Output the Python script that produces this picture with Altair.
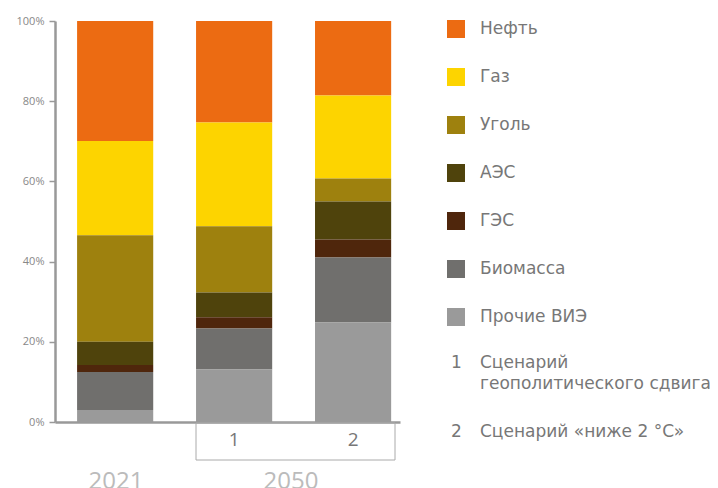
import altair as alt
import pandas as pd

FONT = "Open Sans"
LFONT = "DejaVu Sans"

bars = ["2021", "1", "2"]
sources = ["Нефть", "Газ", "Уголь", "АЭС", "ГЭС", "Биомасса", "Прочие ВИЭ"]
colors = ["#EC6B12", "#FDD400", "#9E810E", "#4F430C", "#4F260C", "#706F6D", "#9A9A9A"]
v_2021 = [29.9, 23.5, 26.6, 5.8, 1.7, 9.5, 3.0]
v_2050_1 = [25.3, 25.9, 16.5, 6.2, 2.8, 10.2, 13.1]
v_2050_2 = [18.6, 20.7, 5.7, 9.5, 4.5, 16.2, 24.8]
y_ticks = [0, 20, 40, 60, 80, 100]
group_labels = ["2021", "2050"]
note_nums = ["1", "2"]
note_lines = ["Сценарий", "геополитического сдвига", "Сценарий «ниже 2 °C»"]

rows = []
for bar, vals in zip(bars, [v_2021, v_2050_1, v_2050_2]):
    for i, (s, v) in enumerate(zip(sources, vals)):
        rows.append({"bar": bar, "source": s, "value": v, "ord": len(sources) - i})
df = pd.DataFrame(rows)

W, H = 345, 401

bars_layer = alt.Chart(df).mark_bar().encode(
    x=alt.X(
        "bar:N",
        sort=bars,
        scale=alt.Scale(paddingInner=0.36, paddingOuter=0.13, align=0.714),
        axis=alt.Axis(
            title=None,
            labelExpr="datum.value == '2021' ? '' : datum.value",
            ticks=False,
            domainColor="#999999",
            domainWidth=2.5,
            labelFontSize=19,
            labelColor="#777777",
            labelFont=FONT,
            labelPadding=8,
            labelAngle=0,
        ),
    ),
    y=alt.Y(
        "value:Q",
        stack="zero",
        scale=alt.Scale(domain=[0, 100], nice=False),
        axis=alt.Axis(
            title=None,
            values=y_ticks,
            labelExpr="datum.value + '%'",
            tickSize=6,
            tickColor="#999999",
            tickWidth=1.5,
            domainColor="#999999",
            domainWidth=2.5,
            labelFontSize=11,
            labelColor="#888888",
            labelFont=FONT,
            labelPadding=5,
            grid=False,
        ),
    ),
    color=alt.Color(
        "source:N",
        scale=alt.Scale(domain=sources, range=colors),
        legend=alt.Legend(
            title=None,
            orient="none",
            legendX=392,
            legendY=-1,
            symbolType="square",
            symbolSize=324,
            symbolStrokeWidth=0,
            labelFontSize=17,
            labelColor="#777777",
            labelFont=LFONT,
            rowPadding=30,
            labelOffset=15,
            padding=0,
        ),
    ),
    order=alt.Order("ord:Q", sort="ascending"),
)

one = pd.DataFrame({"k": [0]})

bracket = alt.Chart(one).mark_rect(fillOpacity=0, stroke="#aaaaaa", strokeWidth=1).encode(
    x=alt.value(141), x2=alt.value(340), y=alt.value(402), y2=alt.value(439)
)

g1 = alt.Chart(one).mark_text(
    text=group_labels[0], font=FONT, fontSize=24, color="#bbbbbb", align="center", baseline="alphabetic"
).encode(x=alt.value(61), y=alt.value(468))
g2 = alt.Chart(one).mark_text(
    text=group_labels[1], font=FONT, fontSize=24, color="#bbbbbb", align="center", baseline="alphabetic"
).encode(x=alt.value(236), y=alt.value(468))

note_style = dict(font=LFONT, fontSize=17, color="#777777", align="left", baseline="alphabetic")
n1 = alt.Chart(one).mark_text(text=note_nums[0], **note_style).encode(x=alt.value(396), y=alt.value(347))
n1a = alt.Chart(one).mark_text(text=note_lines[0], **note_style).encode(x=alt.value(425), y=alt.value(347))
n1b = alt.Chart(one).mark_text(text=note_lines[1], **note_style).encode(x=alt.value(425), y=alt.value(368))
n2 = alt.Chart(one).mark_text(text=note_nums[1], **note_style).encode(x=alt.value(396), y=alt.value(416))
n2a = alt.Chart(one).mark_text(text=note_lines[2], **note_style).encode(x=alt.value(425), y=alt.value(416))

chart = alt.layer(bars_layer, bracket, g1, g2, n1, n1a, n1b, n2, n2a).properties(
    width=W,
    height=H,
    autosize=alt.AutoSizeParams(type="none"),
    padding={"left": 47, "top": 13, "right": 702 - 47 - W, "bottom": 480 - 13 - H},
    background="white",
).configure_view(stroke=None)

chart.save("out.html", embed_options={"renderer": "svg", "actions": False})
